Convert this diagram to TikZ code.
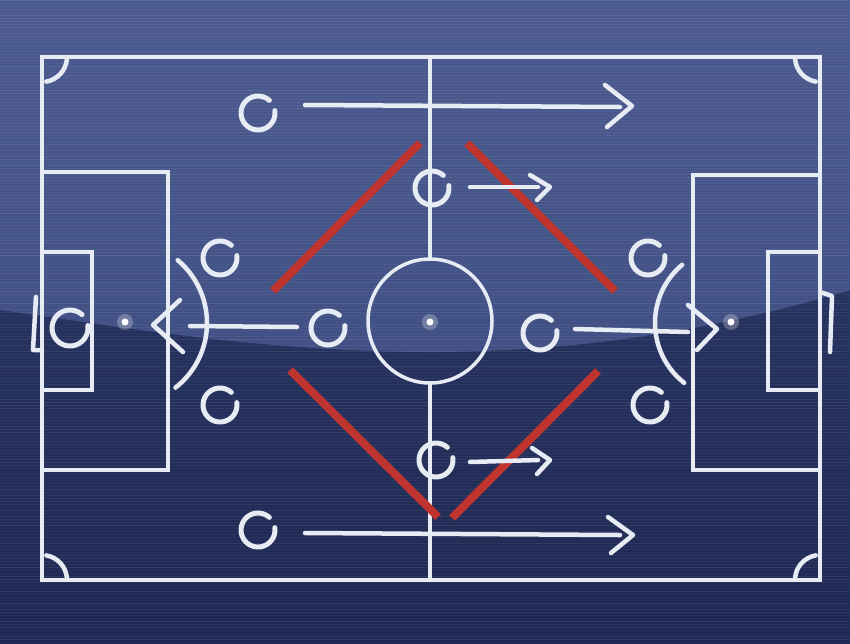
\documentclass[tikz,border=0pt]{standalone}
\usetikzlibrary{positioning}
\definecolor{boardtop}{RGB}{76,91,143}
\definecolor{boardmid}{RGB}{64,80,132}
\definecolor{boardlow}{RGB}{46,60,107}
\definecolor{boardbot}{RGB}{30,40,82}
\definecolor{chalk}{RGB}{231,235,243}
\definecolor{tactic}{RGB}{192,52,48}
\tikzset{
  line/.style={line width=3.5pt,color=chalk,line join=miter},
  stroke/.style={line width=4.5pt,color=chalk,line cap=round,line join=round},
  player/.style={line width=5pt,color=chalk,line cap=round},
  zone/.style={line width=8pt,color=tactic}
}
\begin{document}
\begin{tikzpicture}[x=1pt,y=-1pt]
\useasboundingbox (0,0) rectangle (850,643);
\shade[top color=boardlow,bottom color=boardbot] (0,0) rectangle (850,643);
\shade[top color=boardtop,bottom color=boardmid] (0,0) -- (850,0) -- (850,290)
  .. controls (700,335) and (560,352) .. (430,352)
  .. controls (260,352) and (110,325) .. (0,310) -- cycle;
\pgfmathsetseed{7}
\foreach \s in {0,3,...,642}
{\pgfmathsetmacro{\op}{0.02+0.07*rnd}
\draw[white,opacity=\op,line width=1pt] (0,\s) -- (850,\s);
}
\draw[line] (42,57) rectangle (820,580);
\draw[line] (430,57) -- (430,259);
\draw[line] (430,383) -- (430,580);
\draw[line] (430,321) circle[radius=62];
\draw[line] (42,172) -- (168,172) -- (168,470) -- (42,470);
\draw[line] (42,252) -- (92,252) -- (92,390) -- (42,390);
\draw[line] (820,175) -- (693,175) -- (693,470) -- (820,470);
\draw[line] (820,252) -- (768,252) -- (768,390) -- (820,390);
\draw[stroke] (36,297) -- (33,350) -- (42,350);
\draw[stroke] (820,292) -- (832,296) -- (830,352);
\draw[stroke] (125,323) ++(-50:82) arc[start angle=-50,end angle=52,radius=82];
\draw[stroke] (731,323) ++(128:76) arc[start angle=128,end angle=230,radius=76];
\draw[stroke] (42,57) ++(5:25) arc[start angle=5,end angle=80,radius=25];
\draw[stroke] (820,57) ++(175:25) arc[start angle=175,end angle=100,radius=25];
\draw[stroke] (42,580) ++(-5:25) arc[start angle=-5,end angle=-80,radius=25];
\draw[stroke] (820,580) ++(185:25) arc[start angle=185,end angle=260,radius=25];
\foreach \X in {125,430,731}
{\fill[white,opacity=0.25] (\X,322) circle[radius=8];
\fill[white] (\X,322) circle[radius=3.5];
}
\draw[zone] (273,291) -- (420,143);
\draw[zone] (467,143) -- (615,291);
\draw[zone] (290,370) -- (438,517);
\draw[zone] (598,371) -- (452,518);
\foreach \px/\py/\r in {258/113/17,432/188/17,220/258/17,70/328/18,328/328/17,220/405/17,436/460/17,258/530/17,648/258/17,540/333/17,650/405/17}
{\draw[player] (\px,\py) ++(-8:\r) arc[start angle=-8,end angle=312,radius=\r];
}
\draw[stroke] (305,105) -- (620,107);
\draw[stroke] (605,85) -- (632,106) -- (607,127);
\draw[stroke] (470,187) -- (538,187);
\draw[stroke] (530,175) -- (550,187) -- (537,200);
\draw[stroke] (470,462) -- (538,460);
\draw[stroke] (532,448) -- (550,460) -- (537,474);
\draw[stroke] (305,533) -- (620,535);
\draw[stroke] (608,517) -- (633,535) -- (611,553);
\draw[stroke] (190,326) -- (297,327);
\draw[stroke] (180,300) -- (153,325) -- (183,352);
\draw[stroke] (575,329) -- (688,332);
\draw[stroke] (688,305) -- (717,329) -- (697,350);
\end{tikzpicture}
\end{document}
